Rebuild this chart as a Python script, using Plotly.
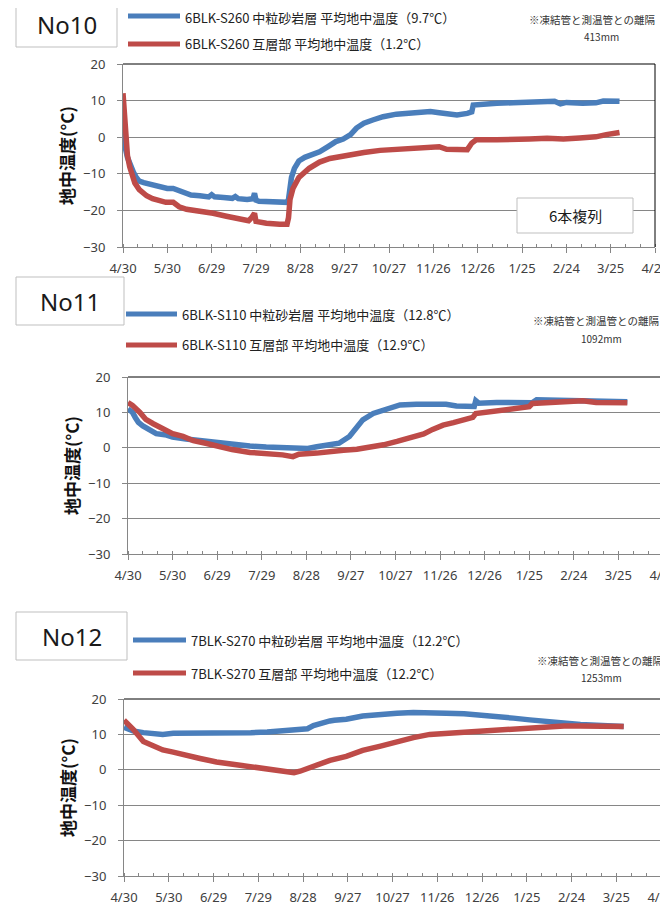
import pandas as pd
import plotly.graph_objects as go

# the page body adds an 8px margin, so the figure is drawn 8px in from the window corner
OFF = 8
W, H = 668 - OFF, 916 - OFF
START = pd.Timestamp("2015-04-30")

# ---------------- data (day offsets from 4/30, temperature in ℃) ----------------
p1_blue_days = [0, 1, 3, 5, 7, 9, 11, 14, 18, 22, 26, 30, 34, 38, 42, 46, 52, 58, 60, 62, 68, 74, 76, 78, 84, 88, 89, 90, 92, 96, 102, 108, 111, 112, 113, 114, 116, 119, 123, 127, 133, 139, 144, 149, 154, 158, 163, 169, 176, 185, 196, 208, 214, 219, 226, 233, 236, 237, 244, 253, 264, 275, 287, 292, 296, 300, 311, 320, 325, 332, 336]
p1_blue_vals = [2, -2, -5.5, -8, -9.5, -11, -12, -12.4, -12.8, -13.3, -13.6, -14, -14, -14.5, -15.3, -15.8, -16, -16.3, -15.7, -16.3, -16.5, -16.7, -16.2, -16.8, -17, -16.8, -15.3, -17.2, -17.5, -17.6, -17.7, -17.8, -17.8, -17, -14, -11, -8.5, -6.5, -5.5, -4.8, -4, -2.5, -1.2, -0.5, 0.7, 2.5, 3.8, 4.7, 5.6, 6.3, 6.8, 7.0, 6.7, 6.3, 6.1, 6.5, 6.9, 8.8, 9.1, 9.3, 9.4, 9.5, 9.7, 9.8, 9.1, 9.5, 9.3, 9.4, 9.9, 10.0, 9.8]
p1_red_days = [0, 0.5, 1, 2, 3, 4.5, 6, 8, 11, 14, 16, 20, 25, 29, 34, 36, 38, 43, 52, 61, 70, 79, 85, 87, 89, 90, 92, 97, 106, 111, 112, 113, 115, 119, 126, 133, 140, 146, 151, 163, 174, 185, 196, 208, 214, 219, 230, 233, 236, 239, 253, 264, 275, 287, 298, 309, 320, 327, 336]
p1_red_vals = [12, 9, 4, -2, -5, -8, -10.5, -12.5, -14.3, -15.5, -16, -16.8, -17.5, -17.8, -17.8, -18.5, -19, -19.7, -20.2, -20.8, -21.6, -22.3, -22.8, -22, -20.8, -23, -23.2, -23.5, -23.8, -23.8, -22, -17, -14, -11, -8.5, -6.8, -5.8, -5.3, -5.0, -4.2, -3.6, -3.3, -2.9, -2.7, -2.6, -3.3, -3.6, -3.4, -1.6, -0.7, -0.7, -0.7, -0.5, -0.3, -0.5, -0.2, 0.1, 0.7, 1.3]

p2_blue_days = [0, 3, 5, 7, 10, 15, 19, 26, 30, 39, 48, 59, 70, 82, 93, 104, 115, 121, 127, 136, 142, 149, 154, 158, 165, 174, 183, 194, 207, 214, 221, 230, 233, 234, 236, 248, 261, 270, 272, 275, 288, 302, 315, 326, 336]
p2_blue_vals = [11, 10, 8.5, 7.2, 6.2, 4.8, 4.0, 3.6, 3.0, 2.5, 2.0, 1.5, 1.0, 0.5, 0.2, -0.1, -0.3, -0.2, 0.3, 0.84, 1.3, 3.2, 6.0, 7.9, 9.7, 11.1, 12.1, 12.3, 12.5, 12.3, 11.8, 11.6, 11.7, 13.3, 12.6, 12.8, 12.7, 12.7, 12.7, 13.6, 13.5, 13.5, 13.3, 13.1, 13.0]
p2_red_days = [0, 3, 8, 12, 17, 21, 26, 30, 37, 44, 53, 62, 70, 82, 93, 104, 111, 115, 127, 136, 145, 154, 163, 172, 181, 190, 199, 205, 212, 219, 225, 232, 234, 243, 252, 261, 270, 272, 282, 293, 306, 315, 326, 336]
p2_red_vals = [12.8, 12, 10, 8, 6.8, 5.8, 4.8, 4, 3.2, 2.0, 1.2, 0.3, -0.5, -1.3, -1.6, -2.0, -2.5, -1.8, -1.5, -1.0, -0.7, -0.4, 0.2, 0.84, 1.8, 2.9, 3.9, 5.2, 6.4, 7.1, 7.85, 8.6, 9.7, 10.2, 10.65, 11.1, 11.6, 12.5, 12.7, 13.0, 13.3, 12.8, 12.8, 12.7]

p3_blue_days = [0, 6, 13, 20, 26, 33, 42, 51, 62, 73, 85, 96, 107, 118, 123, 127, 134, 138, 141, 149, 160, 172, 183, 194, 205, 216, 228, 239, 250, 261, 272, 283, 295, 306, 317, 328, 335]
p3_blue_vals = [12, 11, 10.5, 10.3, 10, 10.3, 10.3, 10.3, 10.3, 10.5, 10.5, 10.7, 11, 11.3, 11.6, 12.5, 13.5, 13.8, 14, 14.3, 15.2, 15.7, 16.0, 16.2, 16.2, 16.0, 15.8, 15.5, 15.0, 14.6, 14.1, 13.6, 13.3, 12.8, 12.6, 12.4, 12.2]
p3_red_days = [0, 6, 13, 20, 26, 33, 42, 51, 62, 73, 85, 96, 107, 114, 118, 123, 129, 138, 149, 160, 172, 183, 194, 205, 216, 228, 239, 250, 261, 272, 283, 295, 306, 317, 335]
p3_red_vals = [14, 11.5, 8, 6.8, 5.6, 5, 4.0, 3.2, 2.2, 1.5, 0.7, 0.2, -0.4, -0.8, -0.4, 0.3, 1.5, 2.65, 3.8, 5.5, 6.7, 8.1, 9.1, 10, 10.3, 10.7, 11.2, 11.5, 11.7, 12.0, 12.2, 12.4, 12.4, 12.4, 12.2]

panel_names = ["No10", "No11", "No12"]
legend_blue = ["6BLK-S260 中粒砂岩層 平均地中温度（9.7℃）",
               "6BLK-S110 中粒砂岩層 平均地中温度（12.8℃）",
               "7BLK-S270 中粒砂岩層 平均地中温度（12.2℃）"]
legend_red = ["6BLK-S260 互層部 平均地中温度（1.2℃）",
              "6BLK-S110 互層部 平均地中温度（12.9℃）",
              "7BLK-S270 互層部 平均地中温度（12.2℃）"]
distances = ["413mm", "1092mm", "1253mm"]
note_text = "※凍結管と測温管との離隔"
y_ticks = [-30, -20, -10, 0, 10, 20]

BLUE = "#4A7EBB"
RED = "#BE4B48"
GRID = "#868686"
TXT = "#404040"

# ---------------- layout geometry (window pixels) ----------------
plots = [dict(x0=123, x1=655, y0=64, y1=247),
         dict(x0=128, x1=663, y0=377, y1=554),
         dict(x0=124, x1=661, y0=699, y1=876)]
boxes = [dict(x0=16, x1=117, y0=2, y1=47),
         dict(x0=16, x1=124, y0=277, y1=325),
         dict(x0=16, x1=127, y0=612, y1=660)]
legpos = [dict(lx0=128, lx1=180, yb=16, yr=44, tx=183),
          dict(lx0=126, lx1=177, yb=314, yr=345, tx=180),
          dict(lx0=133, lx1=186, yb=640, yr=673, tx=189)]
notepos = [dict(x=527, y=20, dy=37), dict(x=531, y=321, dy=338), dict(x=535, y=660, dy=677)]


def px(x):
    return (x - OFF) / W


def py(y):
    return 1 - (y - OFF) / H


def to_dates(days):
    return [START + pd.Timedelta(days=d) for d in days]


series = [((p1_blue_days, p1_blue_vals), (p1_red_days, p1_red_vals)),
          ((p2_blue_days, p2_blue_vals), (p2_red_days, p2_red_vals)),
          ((p3_blue_days, p3_blue_vals), (p3_red_days, p3_red_vals))]

fig = go.Figure()
shapes = []
annotations = []
layout_axes = {}

for i, ((bd, bv), (rd, rv)) in enumerate(series):
    n = "" if i == 0 else str(i + 1)
    xa, ya = "x" + n, "y" + n
    fig.add_trace(go.Scatter(x=to_dates(bd), y=bv, mode="lines", xaxis=xa, yaxis=ya,
                             line=dict(color=BLUE, width=5.5), name=legend_blue[i], showlegend=False))
    fig.add_trace(go.Scatter(x=to_dates(rd), y=rv, mode="lines", xaxis=xa, yaxis=ya,
                             line=dict(color=RED, width=5.5), name=legend_red[i], showlegend=False))
    p = plots[i]
    layout_axes["xaxis" + n] = dict(
        domain=[px(p["x0"]), min(1.0, px(p["x1"]))], anchor=ya, type="date", automargin=False,
        range=["2015-04-30", "2016-04-24"], tick0="2015-04-30", dtick=30 * 86400000,
        tickformat="%-m/%-d", showgrid=False, zeroline=False,
        showline=True, linecolor=GRID, linewidth=1,
        ticks="outside", ticklen=5, tickcolor=GRID, ticklabeloverflow="allow",
        minor=dict(dtick=10 * 86400000, tick0="2015-04-30", ticks="inside", ticklen=3, tickcolor=GRID, showgrid=False),
        tickfont=dict(family="Noto Sans", size=13, color=TXT), ticklabelstandoff=4)
    layout_axes["yaxis" + n] = dict(
        domain=[py(p["y1"]), py(p["y0"])], anchor=xa, range=[-30, 20], tickvals=y_ticks,
        automargin=False,
        showgrid=True, gridcolor=GRID, gridwidth=1, zeroline=False,
        showline=True, linecolor=GRID, linewidth=1,
        ticks="outside", ticklen=5, tickcolor=GRID,
        tickfont=dict(family="Noto Sans", size=13, color=TXT), ticklabelstandoff=9,
        title=dict(text="地中温度(°C)", standoff=4,
                   font=dict(family="Noto Sans CJK JP", size=17, color="#111111", weight="bold")))
    # black top/right border of the plot area
    shapes.append(dict(type="line", xref=xa + " domain", yref=ya + " domain", x0=0, x1=1, y0=1, y1=1,
                       line=dict(color="#000000", width=1)))
    shapes.append(dict(type="line", xref=xa + " domain", yref=ya + " domain", x0=1, x1=1, y0=0, y1=1,
                       line=dict(color="#000000", width=1)))
    # title box
    b = boxes[i]
    shapes.append(dict(type="rect", xref="paper", yref="paper", x0=px(b["x0"]), x1=px(b["x1"]),
                       y0=py(b["y1"]), y1=py(b["y0"]), line=dict(color="#BFBFBF", width=1), fillcolor="white"))
    annotations.append(dict(text=panel_names[i], xref="paper", yref="paper",
                            x=px((b["x0"] + b["x1"]) / 2), y=py((b["y0"] + b["y1"]) / 2),
                            xanchor="center", yanchor="middle", showarrow=False,
                            font=dict(family="Noto Sans", size=24, color="#1A1A1A")))
    # legend
    lg = legpos[i]
    for yy, col, txt in ((lg["yb"], BLUE, legend_blue[i]), (lg["yr"], RED, legend_red[i])):
        shapes.append(dict(type="line", xref="paper", yref="paper", x0=px(lg["lx0"]), x1=px(lg["lx1"]),
                           y0=py(yy), y1=py(yy), line=dict(color=col, width=5)))
        annotations.append(dict(text=txt, xref="paper", yref="paper", x=px(lg["tx"]), y=py(max(yy, 17.5)),
                                xanchor="left", yanchor="middle", showarrow=False,
                                font=dict(family="Noto Sans CJK JP", size=13, color="#222222")))
    # note
    nt = notepos[i]
    annotations.append(dict(text=note_text, xref="paper", yref="paper", x=px(nt["x"]), y=py(nt["y"]),
                            xanchor="left", yanchor="middle", showarrow=False,
                            font=dict(family="Noto Sans CJK JP", size=10.5, color="#333333")))
    annotations.append(dict(text=distances[i], xref="paper", yref="paper", x=px(601), y=py(nt["dy"]),
                            xanchor="center", yanchor="middle", showarrow=False,
                            font=dict(family="Noto Sans CJK JP", size=10, color="#333333")))

# "6本複列" label box in the first panel
shapes.append(dict(type="rect", xref="paper", yref="paper", x0=px(517), x1=px(633), y0=py(233), y1=py(198),
                   line=dict(color="#BFBFBF", width=1), fillcolor="white"))
annotations.append(dict(text="6本複列", xref="paper", yref="paper", x=px(575), y=py(215.5),
                        xanchor="center", yanchor="middle", showarrow=False,
                        font=dict(family="Noto Sans CJK JP", size=15, color="#1A1A1A")))

fig.update_layout(width=W, height=H, margin=dict(l=0, r=0, t=0, b=0, autoexpand=False),
                  paper_bgcolor="white", plot_bgcolor="white", showlegend=False,
                  shapes=shapes, annotations=annotations, **layout_axes)

fig.write_html("out.html")
